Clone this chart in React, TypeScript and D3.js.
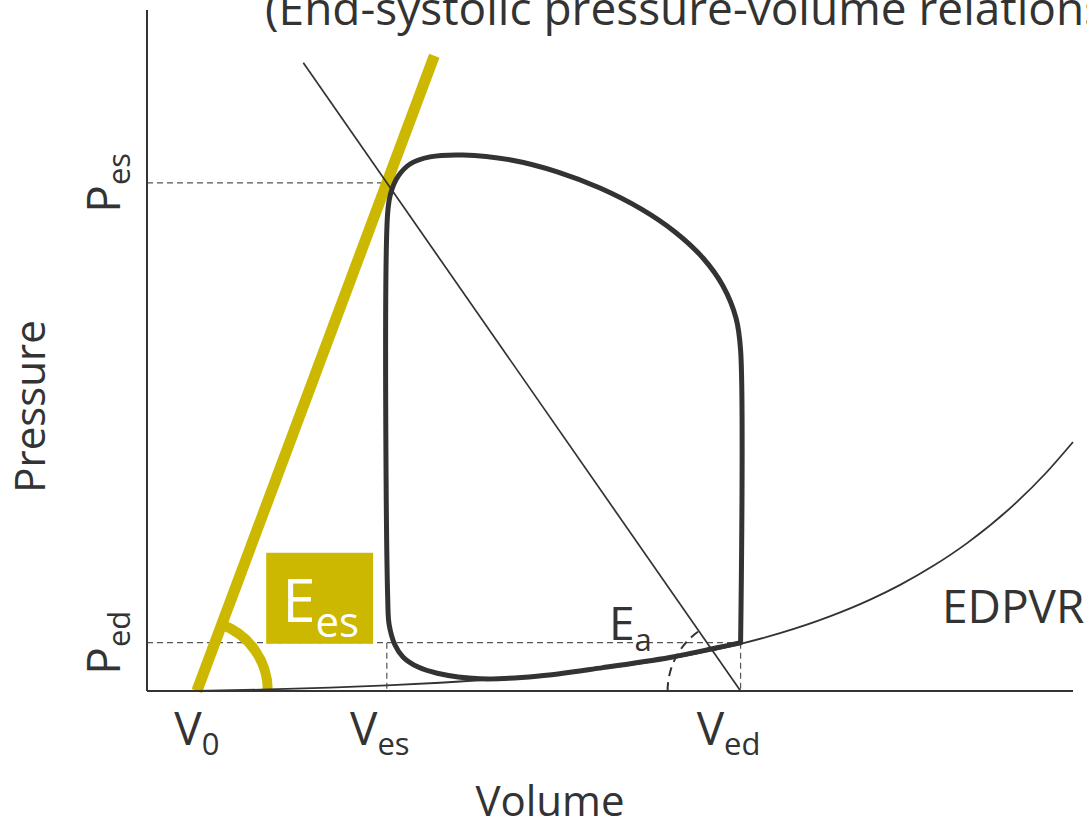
import React from "react";
import * as d3 from "d3";

const W = 1087;
const H = 824;

// Axis domains: volume (mL) and pressure (mmHg)
const volumeDomain = [0, 195];
const pressureDomain = [0, 134];

// Characteristic volumes on the x axis
const volumeNames = ["0", "es", "ed"];
const volumeValues = [10.5, 50.5, 125];

// Characteristic pressures on the y axis
const pressureNames = ["es", "ed"];
const pressureValues = [100, 9.5];

// Upper ends of the two straight relations
const espvrTopPressure = 125;
const eaTopPressure = 123.6;

// Pressure-volume loop (counter-clockwise from end-diastole)
const loopVolume = [
  125, 125, 124.03, 121.29, 117.08, 111.19, 104.03, 95.39, 86.55, 76.65, 66.54,
  59.6, 55.4, 52.9, 51.4, 50.7, 50.7, 51.0, 52.2, 53.9, 57.1, 61.1, 70.1, 82.1,
  96.0, 110.1, 120.0, 125,
];
const loopPressure = [
  9.5, 67.1, 73.4, 79.69, 85.2, 90.32, 94.86, 98.97, 102.12, 104.49, 105.47,
  105.1, 103.7, 101.3, 98.2, 94.3, 17.9, 13.0, 9.1, 6.7, 4.7, 3.5, 2.4, 2.9,
  4.6, 6.6, 8.5, 9.5,
];

// End-diastolic pressure-volume relation
const edpvrVolume = [
  10.5, 23.8, 38.5, 50.5, 61.7, 74.3, 87.0, 99.6, 112.2, 125.0, 133.3, 143.8,
  152.3, 158.6, 165.5, 172.7, 183.2, 189.1, 195.0,
];
const edpvrPressure = [
  0, 0.26, 0.65, 1.09, 1.62, 2.41, 3.46, 4.87, 6.74, 9.28, 11.37, 14.67, 17.97,
  20.88, 24.58, 29.1, 37.2, 42.7, 49.0,
];

const INK = "#333333";
const GOLD = "#CCB800";
const FONT = "'Open Sans', 'Noto Sans', sans-serif";

export default function App() {
  const left = 147;
  const right = 1073;
  const top = 10;
  const bottom = 691;

  const x = d3.scaleLinear().domain(volumeDomain).range([left, right]);
  const y = d3.scaleLinear().domain(pressureDomain).range([bottom, top]);

  const [V0, Ves, Ved] = volumeValues;
  const [Pes, Ped] = pressureValues;

  const Ees = Pes / (Ves - V0);
  const Ea = Pes / (Ved - Ves);

  const line = d3
    .line<[number, number]>()
    .x((d) => x(d[0]))
    .y((d) => y(d[1]));

  const loopPts: [number, number][] = loopVolume.map((v, i) => [v, loopPressure[i]]);
  const loopPath = d3
    .line<[number, number]>()
    .x((d) => x(d[0]))
    .y((d) => y(d[1]))
    .curve(d3.curveCatmullRom.alpha(0.5))(loopPts) as string;

  const edpvrPts: [number, number][] = edpvrVolume.map((v, i) => [v, edpvrPressure[i]]);
  const edpvrPath = d3
    .line<[number, number]>()
    .x((d) => x(d[0]))
    .y((d) => y(d[1]))
    .curve(d3.curveMonotoneX)(edpvrPts) as string;

  const espvrPath = line([
    [V0, 0],
    [V0 + espvrTopPressure / Ees, espvrTopPressure],
  ]) as string;

  const eaPath = line([
    [Ved, 0],
    [Ved - eaTopPressure / Ea, eaTopPressure],
  ]) as string;

  // Angle arcs marking the slopes Ees and Ea
  const eesCx = x(V0);
  const eesCy = y(0);
  const eesAngle = Math.atan2(
    y(espvrTopPressure) - eesCy,
    x(V0 + espvrTopPressure / Ees) - eesCx
  );
  const eesR = 71;
  const eesArc = d3.path();
  eesArc.moveTo(eesCx + eesR, eesCy);
  eesArc.arc(eesCx, eesCy, eesR, 0, eesAngle, true);

  const eaCx = x(Ved);
  const eaCy = y(0);
  const eaAngle = Math.atan2(y(Pes) - eaCy, x(Ves) - eaCx) + 2 * Math.PI;
  const eaR = 73;
  const eaArc = d3.path();
  eaArc.moveTo(eaCx - eaR, eaCy);
  eaArc.arc(eaCx, eaCy, eaR, Math.PI, eaAngle, false);

  const dash = { stroke: "#555", strokeWidth: 1.2, strokeDasharray: "6,4", fill: "none" };

  const volumeLabelShift = [0, -7, -12];
  const pressureLabelX = 120;

  // Ees label box, in volume / pressure units
  const boxV = [25.1, 47.6];
  const boxP = [9.3, 27.2];

  return (
    <svg
      width={W}
      height={H}
      style={{ position: "absolute", left: 0, top: 0, background: "#fff" }}
      fontFamily={FONT}
    >
      <rect x={0} y={0} width={W} height={H} fill="#fff" />

      {/* title, running past the right edge */}
      <text x={265} y={25} fontSize={46} fill={INK}>
        (End-systolic pressure-volume relationship)
      </text>

      {/* reference dashes */}
      <line x1={left} x2={x(Ves)} y1={y(Pes)} y2={y(Pes)} {...dash} />
      <line x1={left} x2={x(Ved)} y1={y(Ped)} y2={y(Ped)} {...dash} />
      <line x1={x(Ves)} x2={x(Ves)} y1={y(Ped)} y2={y(0)} {...dash} />
      <line x1={x(Ved)} x2={x(Ved)} y1={y(Ped)} y2={y(0)} {...dash} />

      {/* Ees box */}
      <rect
        x={x(boxV[0])}
        y={y(boxP[1])}
        width={x(boxV[1]) - x(boxV[0])}
        height={y(boxP[0]) - y(boxP[1])}
        fill={GOLD}
      />
      <text
        x={(x(boxV[0]) + x(boxV[1])) / 2 + 1}
        y={622}
        textAnchor="middle"
        fill="#fff"
        fontSize={60}
      >
        <tspan>E</tspan>
        <tspan fontSize={42} dy={15}>es</tspan>
      </text>

      {/* ESPVR */}
      <path d={espvrPath} stroke={GOLD} strokeWidth={11} fill="none" />
      <path d={eesArc.toString()} stroke={GOLD} strokeWidth={10} fill="none" />

      {/* EDPVR */}
      <path d={edpvrPath} stroke={INK} strokeWidth={1.8} fill="none" />

      {/* PV loop */}
      <path
        d={loopPath}
        stroke={INK}
        strokeWidth={5}
        fill="none"
        strokeLinejoin="round"
        strokeLinecap="round"
      />

      {/* Ea line and arc */}
      <path d={eaPath} stroke={INK} strokeWidth={1.7} fill="none" />
      <path d={eaArc.toString()} stroke={INK} strokeWidth={2} strokeDasharray="9,6" fill="none" />

      {/* axes */}
      <line x1={left} x2={left} y1={top} y2={bottom} stroke={INK} strokeWidth={2} />
      <line x1={left} x2={right} y1={bottom} y2={bottom} stroke={INK} strokeWidth={2} />

      {/* volume labels */}
      {volumeValues.map((v, i) => (
        <text
          key={volumeNames[i]}
          x={x(v) + volumeLabelShift[i]}
          y={745}
          textAnchor="middle"
          fontSize={46}
          fill={INK}
        >
          <tspan>V</tspan>
          <tspan fontSize={31} dy={10}>{volumeNames[i]}</tspan>
        </text>
      ))}

      {/* pressure labels */}
      {pressureValues.map((p, i) => (
        <text
          key={pressureNames[i]}
          transform={`translate(${pressureLabelX},${y(p)}) rotate(-90)`}
          textAnchor="middle"
          fontSize={46}
          fill={INK}
        >
          <tspan>P</tspan>
          <tspan fontSize={31} dy={10}>{pressureNames[i]}</tspan>
        </text>
      ))}

      {/* Ea label */}
      <text x={609} y={640} fontSize={46} fill={INK}>
        <tspan>E</tspan>
        <tspan fontSize={31} dy={11}>a</tspan>
      </text>

      {/* EDPVR label */}
      <text x={942} y={623} fontSize={46} fill={INK}>
        EDPVR
      </text>

      {/* axis titles */}
      <text x={550} y={816} textAnchor="middle" fontSize={42} fill={INK}>
        Volume
      </text>
      <text
        transform={`translate(45,${(top + bottom) / 2 + 56}) rotate(-90)`}
        textAnchor="middle"
        fontSize={42}
        fill={INK}
      >
        Pressure
      </text>
    </svg>
  );
}
